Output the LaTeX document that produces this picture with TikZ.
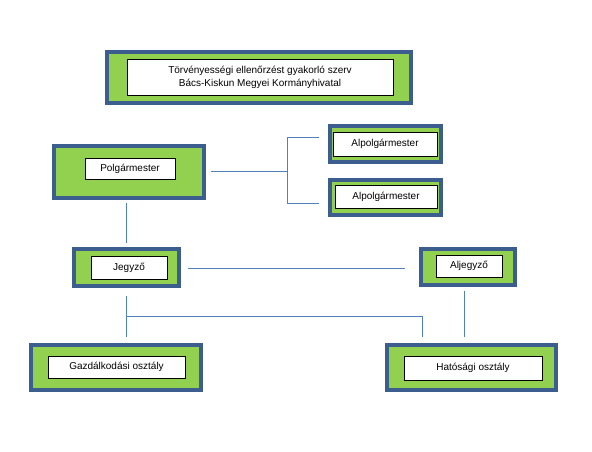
\documentclass[tikz,border=0pt]{standalone}
\usepackage{fontspec}
\setmainfont{Liberation Sans}
\definecolor{boxblue}{HTML}{3C5E8E}
\definecolor{boxgreen}{HTML}{92D050}
\definecolor{linkblue}{HTML}{4F81BD}
\begin{document}
\begin{tikzpicture}[x=1pt,y=-1pt,
  outerbox/.style={draw=boxblue,line width=3.8pt,fill=boxgreen,inner sep=0pt},
  innerbox/.style={draw=black,line width=0.8pt,fill=white,inner sep=0pt,align=center,font=\fontsize{10}{13}\selectfont},
  link/.style={draw=linkblue,line width=1pt}]
\useasboundingbox[fill=white] (0,0) rectangle (592,452);
% outer boxes
\node[outerbox,minimum width=304.5pt,minimum height=51.5pt] (topo) at (259,77.5) {};
\node[outerbox,minimum width=150.5pt,minimum height=52.5pt] (polgo) at (129,172) {};
\node[outerbox,minimum width=111.5pt,minimum height=36.5pt] (alp1o) at (385.5,144) {};
\node[outerbox,minimum width=111.5pt,minimum height=35.5pt] (alp2o) at (385.5,197.5) {};
\node[outerbox,minimum width=105.5pt,minimum height=37.5pt] (jego) at (126.5,267.5) {};
\node[outerbox,minimum width=94.5pt,minimum height=36.5pt] (aljo) at (468,267) {};
\node[outerbox,minimum width=170.5pt,minimum height=45.5pt] (gazdo) at (116,367.5) {};
\node[outerbox,minimum width=169.5pt,minimum height=45.5pt] (hato) at (471.5,367.5) {};
% inner boxes
\node[innerbox,minimum width=266pt,minimum height=36pt] (top) at (260,77) {Törvényességi ellenőrzést gyakorló szerv\\Bács-Kiskun Megyei Kormányhivatal};
\node[innerbox,minimum width=90pt,minimum height=21pt] (polg) at (130,168.5) {Polgármester};
\node[innerbox,minimum width=104pt,minimum height=24pt] (alp1) at (385,144) {Alpolgármester};
\node[innerbox,minimum width=102pt,minimum height=23pt] (alp2) at (386,196.5) {Alpolgármester};
\node[innerbox,minimum width=76pt,minimum height=23pt] (jeg) at (129,267.5) {Jegyző};
\node[innerbox,minimum width=66pt,minimum height=22pt] (alj) at (469,266) {Aljegyző};
\node[innerbox,minimum width=137pt,minimum height=22pt] (gazd) at (116.5,367) {Gazdálkodási osztály};
\node[innerbox,minimum width=138pt,minimum height=24pt] (hat) at (473,368) {Hatósági osztály};
% connector coordinates
\coordinate (pr) at (211,171);
\coordinate (br) at (287,171);
\coordinate (bt) at (287,137);
\coordinate (bb) at (287,203);
\coordinate (a1) at (319,137);
\coordinate (a2) at (319,203);
\coordinate (ps) at (126,203);
\coordinate (jn) at (126,243);
\coordinate (je) at (188,268);
\coordinate (aw) at (405,268);
\coordinate (js) at (126,296);
\coordinate (jm) at (126,316);
\coordinate (gn) at (126,337);
\coordinate (hm) at (422,316);
\coordinate (hn) at (422,337);
\coordinate (as) at (464,291);
\coordinate (an) at (464,337);
% connectors
\draw[link] (pr) -- (br);
\draw[link] (a1) -- (bt) -- (bb) -- (a2);
\draw[link] (ps) -- (jn);
\draw[link] (je) -- (aw);
\draw[link] (js) -- (gn);
\draw[link] (jm) -- (hm) -- (hn);
\draw[link] (as) -- (an);
\end{tikzpicture}
\end{document}
